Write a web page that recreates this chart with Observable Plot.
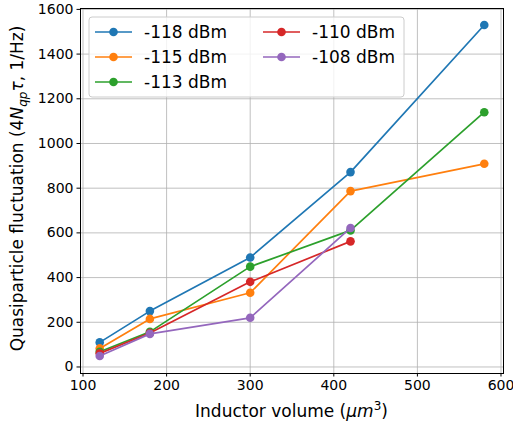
<!DOCTYPE html>
<html>
<head>
<meta charset="utf-8">
<script src="https://cdn.jsdelivr.net/npm/d3@7"></script>
<script src="https://cdn.jsdelivr.net/npm/@observablehq/plot@0.6"></script>
<style>
  html, body { margin: 0; padding: 0; background: #fff; }
  svg { font-family: "DejaVu Sans", sans-serif; }
</style>
</head>
<body>
<div id="chart"></div>
<script>
const volumes = [120, 180, 300, 420, 580];
const seriesNames = ["-118 dBm", "-115 dBm", "-113 dBm", "-110 dBm", "-108 dBm"];
const seriesColors = ["#1f77b4", "#ff7f0e", "#2ca02c", "#d62728", "#9467bd"];
const s118 = [110, 250, 490, 872, 1530];
const s115 = [83, 215, 332, 787, 909];
const s113 = [68, 157, 449, 611, 1140];
const s110 = [61, 152, 381, 562];
const s108 = [49, 148, 220, 622];
const xTicks = [100, 200, 300, 400, 500, 600];
const yTicks = [0, 200, 400, 600, 800, 1000, 1200, 1400, 1600];

const allSeries = [s118, s115, s113, s110, s108];
const tables = allSeries.map((vals, i) =>
  vals.map((v, j) => ({x: volumes[j], y: v, s: seriesNames[i]})));

const W = 513, H = 426;
const mL = 80, mR = 10, mT = 8, mB = 53;

const marks = [
  Plot.gridX(xTicks, {stroke: "#b0b0b0", strokeOpacity: 1, strokeWidth: 0.8}),
  Plot.gridY(yTicks, {stroke: "#b0b0b0", strokeOpacity: 1, strokeWidth: 0.8}),
];
tables.forEach((t, i) => {
  marks.push(Plot.line(t, {x: "x", y: "y", stroke: seriesColors[i], strokeWidth: 1.7}));
  marks.push(Plot.dot(t, {x: "x", y: "y", fill: seriesColors[i], r: 4.3}));
});
marks.push(Plot.frame({stroke: "black", strokeWidth: 1}));
marks.push(Plot.axisX(xTicks, {tickSize: 3.5, tickPadding: 3.5, fontSize: 14, label: null, color: "black", tickFormat: d => String(d)}));
marks.push(Plot.axisY(yTicks, {tickSize: 3.5, tickPadding: 3.5, fontSize: 14, label: null, color: "black", tickFormat: d => String(d)}));

const chart = Plot.plot({
  width: W, height: H,
  marginLeft: mL, marginRight: mR, marginTop: mT, marginBottom: mB,
  style: {fontFamily: "DejaVu Sans, sans-serif", fontSize: "14px", color: "black", background: "white"},
  x: {domain: [97, 603]},
  y: {domain: [-29.2, 1604]},
  marks
});
document.getElementById("chart").appendChild(chart);

const svg = d3.select(chart);
const px = (W - mR + mL) / 2;
const py = (mT + H - mB) / 2;

// x label
const xl = svg.append("text").attr("x", px).attr("y", 417)
  .attr("text-anchor", "middle").attr("font-size", 17).attr("fill", "black");
xl.append("tspan").text("Inductor volume (");
xl.append("tspan").attr("font-style", "italic").text("μm");
xl.append("tspan").attr("font-size", 12).attr("dy", -7).text("3");
xl.append("tspan").attr("dy", 7).text(")");

// y label
const yl = svg.append("text").attr("transform", `translate(23,${py - 2}) rotate(-90)`)
  .attr("text-anchor", "middle").attr("font-size", 17).attr("fill", "black");
yl.append("tspan").text("Quasiparticle fluctuation (4");
yl.append("tspan").attr("font-style", "italic").text("N");
yl.append("tspan").attr("font-style", "italic").attr("font-size", 12).attr("dy", 4).text("qp");
yl.append("tspan").attr("font-style", "italic").attr("dy", -4).text("τ");
yl.append("tspan").text(", 1/Hz)");

// legend
const lg = svg.append("g");
lg.append("rect").attr("x", 89).attr("y", 17).attr("width", 315).attr("height", 80)
  .attr("rx", 3).attr("fill", "white").attr("fill-opacity", 0.8)
  .attr("stroke", "#cccccc").attr("stroke-width", 1);
const cols = [{x0: 95, x1: 132, tx: 144}, {x0: 263, x1: 300, tx: 312}];
const rows = [32, 57, 82];
seriesNames.forEach((name, i) => {
  const c = cols[i < 3 ? 0 : 1];
  const yy = rows[i < 3 ? i : i - 3];
  lg.append("line").attr("x1", c.x0).attr("x2", c.x1).attr("y1", yy).attr("y2", yy)
    .attr("stroke", seriesColors[i]).attr("stroke-width", 1.7);
  lg.append("circle").attr("cx", (c.x0 + c.x1) / 2).attr("cy", yy).attr("r", 4.3)
    .attr("fill", seriesColors[i]);
  lg.append("text").attr("x", c.tx).attr("y", yy).attr("dy", "0.36em")
    .attr("text-anchor", "start")
    .attr("font-size", 17).attr("fill", "black").text(name);
});
</script>
</body>
</html>
